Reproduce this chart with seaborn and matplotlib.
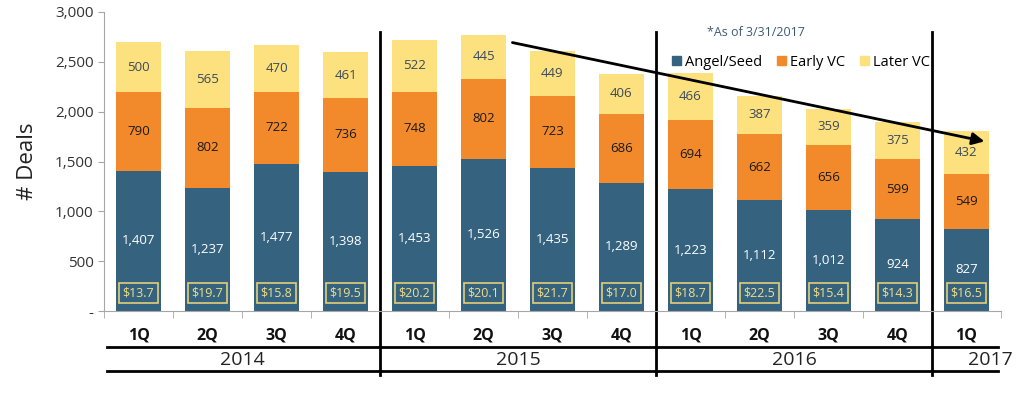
import numpy as np
import pandas as pd
import seaborn as sns
import matplotlib.pyplot as plt
import matplotlib.transforms as mtransforms

# deal counts by quarter
quarters = ['1Q', '2Q', '3Q', '4Q', '1Q', '2Q', '3Q', '4Q', '1Q', '2Q', '3Q', '4Q', '1Q']
years = ['2014', '2015', '2016', '2017']
angel_seed = [1407, 1237, 1477, 1398, 1453, 1526, 1435, 1289, 1223, 1112, 1012, 924, 827]
early_vc = [790, 802, 722, 736, 748, 802, 723, 686, 694, 662, 656, 599, 549]
later_vc = [500, 565, 470, 461, 522, 445, 449, 406, 466, 387, 359, 375, 432]
amount = ['$13.7', '$19.7', '$15.8', '$19.5', '$20.2', '$20.1', '$21.7', '$17.0',
          '$18.7', '$22.5', '$15.4', '$14.3', '$16.5']

c_angel = '#35637F'
c_early = '#F28A2C'
c_later = '#FDE17F'

df = pd.DataFrame({'period': [f'{q} {i}' for i, q in enumerate(quarters)],
                   'angel': angel_seed, 'early': early_vc, 'later': later_vc})
df['mid'] = df['angel'] + df['early']
df['total'] = df['mid'] + df['later']

plt.rcParams['font.family'] = ['Open Sans', 'DejaVu Sans']
fig, ax = plt.subplots(figsize=(10.24, 3.96), dpi=100)
fig.subplots_adjust(left=0.1016, right=0.9775, bottom=0.2146, top=0.9697)

# stacked bars drawn back to front
sns.barplot(data=df, x='period', y='total', color=c_later, width=0.65, saturation=1, ax=ax)
sns.barplot(data=df, x='period', y='mid', color=c_early, width=0.65, saturation=1, ax=ax)
sns.barplot(data=df, x='period', y='angel', color=c_angel, width=0.65, saturation=1, ax=ax)

for i, row in df.iterrows():
    ax.text(i, row['angel'] / 2, f"{row['angel']:,}", ha='center', va='center',
            color='white', fontsize=9.5)
    ax.text(i, row['angel'] + row['early'] / 2, f"{row['early']:,}", ha='center',
            va='center', color='#1A1A1A', fontsize=9.5)
    ax.text(i, row['mid'] + row['later'] / 2, f"{row['later']:,}", ha='center',
            va='center', color='#3B4A5A', fontsize=9.5)
    ax.text(i, 180, amount[i], ha='center', va='center', color='#F3DD85', fontsize=9,
            bbox=dict(boxstyle='square,pad=0.3', fc='none', ec='#E3CF7A', lw=1.2))

ax.set_ylim(0, 3000)
ax.set_xlim(-0.5, 12.5)
ax.set_yticks(np.arange(0, 3001, 500))
ax.set_yticklabels(['-'] + [f'{v:,}' for v in range(500, 3001, 500)], fontsize=11, color='#333333')
ax.set_ylabel('# Deals', fontsize=16, color='#222222', labelpad=12)
ax.set_xlabel('')
ax.set_xticks(range(13))
ax.set_xticklabels(quarters, fontsize=11.5, fontweight='bold', color='#111111')
ax.tick_params(axis='x', length=0, pad=12)
ax.set_xticks(np.arange(-0.5, 13, 1), minor=True)
ax.tick_params(axis='x', which='minor', length=5, color='#A6A6A6', direction='out')
ax.tick_params(axis='y', length=4, color='#A6A6A6')
for s in ['top', 'right']:
    ax.spines[s].set_visible(False)
for s in ['left', 'bottom']:
    ax.spines[s].set_color('#A6A6A6')

# year grouping lines
trans = mtransforms.blended_transform_factory(ax.transData, fig.transFigure)
for x in [3.5, 7.5, 11.5]:
    ax.plot([x, x], [0.919, 0.053], color='black', lw=2, transform=trans, clip_on=False)
for y in [0.1237, 0.0631]:
    ax.plot([-0.46, 12.46], [y, y], color='black', lw=2, transform=trans, clip_on=False)
for label, x in zip(years, [1.5, 5.5, 9.5, 12.35]):
    ax.text(x, 0.091, label, ha='center', va='center', fontsize=14, color='#222222',
            transform=trans)

# trend arrow
ax.annotate('', xy=(12.3, 1696), xytext=(5.38, 2699),
            arrowprops=dict(arrowstyle='-|>', color='black', lw=2, mutation_scale=18),
            annotation_clip=False)

handles = [plt.Rectangle((0, 0), 1, 1, color=c) for c in [c_angel, c_early, c_later]]
fig.legend(handles, ['Angel/Seed', 'Early VC', 'Later VC'], loc='center',
           bbox_to_anchor=(801 / 1024, 1 - 62 / 396), ncol=3, frameon=False,
           fontsize=10.5, handlelength=0.6, handleheight=0.6, handletextpad=0.3,
           columnspacing=1.0)
fig.text(756 / 1024, 1 - 32 / 396, '*As of 3/31/2017', ha='center', va='center',
         fontsize=9, color='#3D5A73')

fig.savefig('out.png', dpi=100)
